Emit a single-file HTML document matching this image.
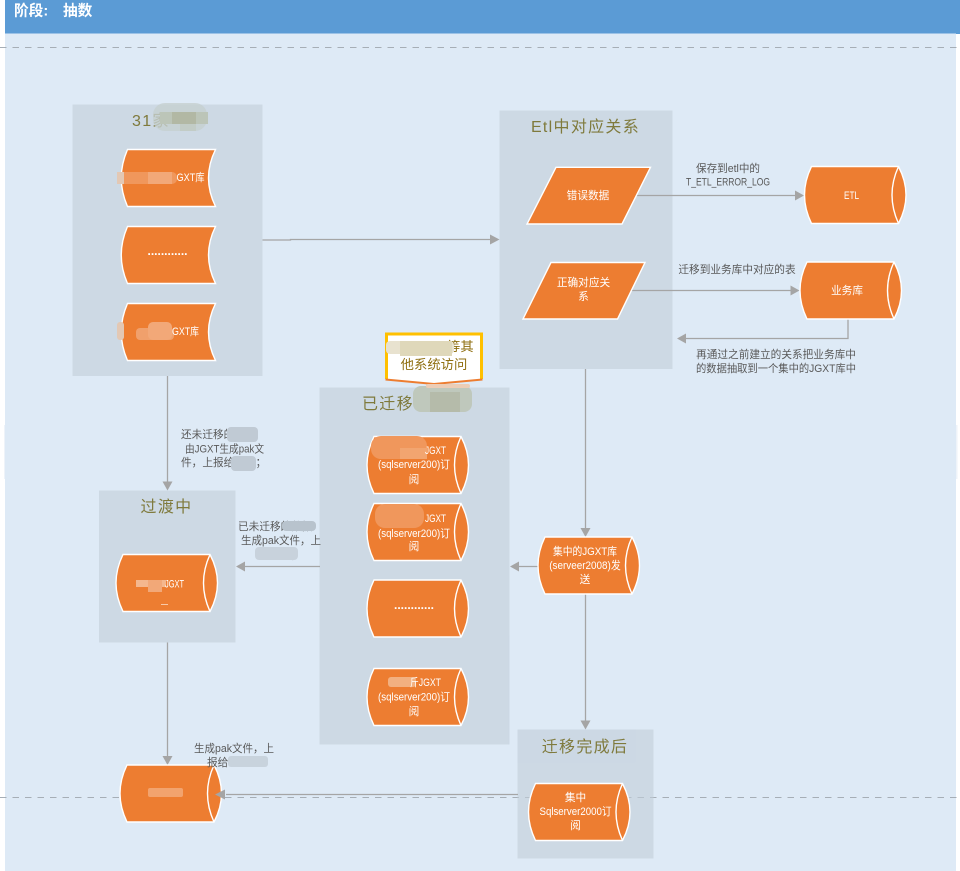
<!DOCTYPE html>
<html><head><meta charset="utf-8">
<style>
html,body{margin:0;padding:0;background:#fff;width:960px;height:871px;overflow:hidden}
svg{display:block}
text{font-family:"Liberation Sans","Noto Sans CJK SC",sans-serif;font-size:10.67px}
.w{fill:#fff;text-anchor:middle}
.g{fill:#595959}
.m{fill:#595959;text-anchor:middle}
.t{fill:#7f7a3c;font-size:16px;letter-spacing:1.3px}
.c{text-anchor:middle}
.n{fill:#ed7d31;stroke:#fff;stroke-width:1.4}
.l{fill:none;stroke:#a5a5a5;stroke-width:1.3}
.a{fill:#a5a5a5}
.d{stroke:#a6aeb6;stroke-width:1;stroke-dasharray:6.5 6}
</style></head><body>
<svg width="960" height="871" viewBox="0 0 960 871" xmlns="http://www.w3.org/2000/svg">
<defs>
<g id="cyl"><path class="n" d="M7,0H94Q109,28.5 94,57H7Q-7,28.5 7,0Z"/><path class="n" style="fill:none" d="M94,0Q81,28.5 94,57"/></g>
<path id="sd" class="n" d="M6.500,0H94.500Q80.500,28.500 94.500,57H6.500Q-6,28.500 6.500,0Z"/>
</defs>

<rect x="5" y="0" width="951" height="871" fill="#deeaf6"/>
<rect x="956" y="0" width="4" height="34" fill="#5b9bd5"/>
<rect x="5" y="0" width="955" height="33.500" fill="#5b9bd5"/>
<rect x="4" y="425" width="1" height="54" fill="#eef3f9"/>
<rect x="956" y="425" width="1.500" height="54" fill="#eef3f9"/>
<text x="14" y="15.500" fill="#fff" style="font-size:14.67px;font-weight:bold">阶段:</text>
<text x="63" y="15.500" fill="#fff" style="font-size:14.67px;font-weight:bold">抽数</text>

<line class="d" x1="0" y1="47.500" x2="960" y2="47.500"/>
<line class="d" x1="0" y1="797.500" x2="960" y2="797.500"/>

<g fill="#c1cdd9" opacity=".6">
<rect x="72.500" y="104.500" width="190" height="271.500"/>
<rect x="499.500" y="110.500" width="173" height="258.500"/>
<rect x="319.500" y="387.500" width="190" height="357"/>
<rect x="99" y="490.500" width="136.500" height="152"/>
<rect x="517.500" y="729.500" width="136" height="129"/>
</g>

<text class="t" x="132" y="126">31家</text>
<text class="t c" x="585.500" y="132">Etl中对应关系</text>
<text class="t" x="362" y="409">已迁移</text>
<text class="t c" x="166.500" y="512">过渡中</text>
<text class="t c" x="585" y="752">迁移完成后</text>

<rect x="153" y="103" width="54" height="28" rx="12" fill="#c6d0d0" opacity=".8"/>
<rect x="160" y="112" width="48" height="12" fill="#bcc5b8"/>
<rect x="172" y="112" width="24" height="12" fill="#b2b8a4"/>
<rect x="180" y="124" width="16" height="7" fill="#c2ccc6"/>
<rect x="413" y="386" width="59" height="26" rx="8" fill="#bfc8bc"/>
<rect x="430" y="392" width="30" height="20" fill="#b5bbaa"/>

<!-- connectors -->
<path class="l" d="M262.500,240H290.500V239.500H490"/><path class="a" d="M499.500,239.500L490,234.500V244.500Z"/>
<path class="l" d="M636,195.500H796"/><path class="a" d="M804,195.500L795,190.500V200.500Z"/>
<path class="l" d="M632,290.500H791"/><path class="a" d="M799.500,290.500L790.500,285.500V295.500Z"/>
<path class="l" d="M848,318.500V338.500H685"/><path class="a" d="M677,338.500L686,333.500V343.500Z"/>
<path class="l" d="M585.500,369V529"/><path class="a" d="M585.500,537L580.500,528H590.500Z"/>
<path class="l" d="M538,566.500H518"/><path class="a" d="M510,566.500L519,561.500V571.500Z"/>
<path class="l" d="M585.500,594V721"/><path class="a" d="M585.500,729.500L580.500,720.500H590.500Z"/>
<path class="l" d="M167.500,376V482"/><path class="a" d="M167.500,490.500L162.500,481.500H172.500Z"/>
<path class="l" d="M320,566.500H244"/><path class="a" d="M236,566.500L245,561.500V571.500Z"/>
<path class="l" d="M167.500,642.500V757"/><path class="a" d="M167.500,765L162.500,756H172.500Z"/>

<!-- nodes -->
<use href="#sd" x="121" y="149.500"/>
<use href="#sd" x="121" y="226.500"/>
<use href="#sd" x="121" y="303.500"/>
<path class="n" d="M556,167.300H650.500L622,224H527Z"/>
<path class="n" d="M551,262.500H645L617.500,319H523Z"/>
<use href="#cyl" x="804.500" y="166.500"/>
<use href="#cyl" x="800" y="262"/>
<use href="#cyl" x="367" y="436.500"/>
<use href="#cyl" x="367" y="503.500"/>
<use href="#cyl" x="367" y="580"/>
<use href="#cyl" x="367" y="668.500"/>
<use href="#cyl" x="116" y="554.500"/>
<use href="#cyl" x="120" y="765"/>
<use href="#cyl" x="538" y="537"/>
<use href="#cyl" x="528.500" y="783.500"/>

<path class="l" d="M518,794.500H226"/><path class="a" d="M215,794.500L225,789.500V799.500Z"/>

<!-- node text -->
<rect x="117" y="172" width="60" height="12" rx="5" fill="#f0975c"/>
<rect x="117" y="172" width="7" height="12" fill="#e3c8b4"/>
<rect x="148" y="172" width="24" height="12" fill="#f2a878"/>
<text x="176.500" y="181" fill="#fff" textLength="28" lengthAdjust="spacingAndGlyphs">GXT库</text>
<text class="w" x="167.500" y="255" style="font-size:12px;font-weight:bold">............</text>
<rect x="136" y="328" width="38" height="12" rx="4" fill="#f0a06c"/>
<rect x="148" y="322" width="24" height="18" rx="5" fill="#f2a878"/>
<rect x="117" y="322" width="7" height="18" rx="3" fill="#e3c8b4"/>
<text x="172" y="335" fill="#fff" textLength="27" lengthAdjust="spacingAndGlyphs">GXT库</text>

<text class="w" x="588" y="199">错误数据</text>
<text class="w" x="583.500" y="286">正确对应关</text>
<text class="w" x="583.500" y="300">系</text>
<text class="w" x="851.500" y="199" textLength="15" lengthAdjust="spacingAndGlyphs">ETL</text>
<text class="w" x="847" y="294">业务库</text>

<rect x="371" y="436" width="56" height="23" rx="10" fill="#f0975c"/>
<rect x="400" y="448" width="27" height="11" fill="#f2a570"/>
<text x="425" y="454" fill="#fff" textLength="21" lengthAdjust="spacingAndGlyphs">JGXT</text>
<text class="w" x="414" y="468" textLength="72" lengthAdjust="spacingAndGlyphs">(sqlserver200)订</text>
<text class="w" x="414" y="483">阅</text>

<rect x="375" y="504" width="49" height="24" rx="10" fill="#f0975c"/>
<text x="425" y="522" fill="#fff" textLength="21" lengthAdjust="spacingAndGlyphs">JGXT</text>
<text class="w" x="414" y="537" textLength="72" lengthAdjust="spacingAndGlyphs">(sqlserver200)订</text>
<text class="w" x="414" y="550">阅</text>

<text class="w" x="414" y="609" style="font-size:12px;font-weight:bold">............</text>

<rect x="388" y="677" width="28" height="10" rx="3" fill="#f2b080"/>
<text x="410" y="686" fill="#fff" textLength="31" lengthAdjust="spacingAndGlyphs">斤JGXT</text>
<text class="w" x="414" y="700.500" textLength="72" lengthAdjust="spacingAndGlyphs">(sqlserver200)订</text>
<text class="w" x="414" y="715">阅</text>

<rect x="136" y="580" width="30" height="7" fill="#f4b78e"/>
<rect x="148" y="580" width="14" height="12" fill="#f2a878"/>
<text x="165" y="587.500" fill="#fff" textLength="19" lengthAdjust="spacingAndGlyphs">JGXT</text>
<rect x="161" y="604" width="7" height="1" fill="#f7c9a8"/>

<rect x="148" y="788" width="35" height="9" rx="2" fill="#f2a36e"/>

<text class="w" x="585" y="555" textLength="64" lengthAdjust="spacingAndGlyphs">集中的JGXT库</text>
<text class="w" x="585" y="569" textLength="71.500" lengthAdjust="spacingAndGlyphs">(serveer2008)发</text>
<text class="w" x="585" y="583">送</text>

<text class="w" x="575.500" y="801">集中</text>
<text class="w" x="575.500" y="815" textLength="72" lengthAdjust="spacingAndGlyphs">Sqlserver2000订</text>
<text class="w" x="575.500" y="829">阅</text>

<!-- labels -->
<text class="m" x="728" y="172" textLength="64" lengthAdjust="spacingAndGlyphs">保存到etl中的</text>
<text class="m" x="728" y="185.500" textLength="84" lengthAdjust="spacingAndGlyphs">T_ETL_ERROR_LOG</text>
<text class="m" x="737" y="273">迁移到业务库中对应的表</text>
<text class="m" x="776" y="358">再通过之前建立的关系把业务库中</text>
<text class="m" x="776" y="372" textLength="160" lengthAdjust="spacingAndGlyphs">的数据抽取到一个集中的JGXT库中</text>

<text class="g" x="181" y="438">还未迁移的</text>
<text class="g" x="185" y="452.500" textLength="79" lengthAdjust="spacingAndGlyphs">由JGXT生成pak文</text>
<text class="g" x="181" y="466">件，上报给省局；</text>
<rect x="227" y="427" width="31" height="15" rx="4" fill="#c0cad4"/>
<rect x="231" y="456" width="25" height="15" rx="4" fill="#c0cad4"/>

<text class="g" x="238" y="530">已未迁移的数据</text>
<text class="g" x="241" y="544" textLength="80" lengthAdjust="spacingAndGlyphs">生成pak文件，上</text>
<text class="g" x="259" y="558">报省局；</text>
<rect x="282" y="521" width="34" height="10" rx="4" fill="#b8c3cd"/>
<rect x="255" y="547" width="43" height="13" rx="4" fill="#c8d2dc"/>

<text class="g" x="194" y="752" textLength="80" lengthAdjust="spacingAndGlyphs">生成pak文件，上</text>
<text class="g" x="207" y="766">报给</text>
<rect x="228" y="756" width="40" height="11" rx="3" fill="#c8d3dd"/>

<!-- callout -->
<path d="M386.500,334H481.500V379L434,384L386.500,379Z" fill="#fff"/>
<path d="M386.500,379V334H481.500V379" fill="none" stroke="#ffc000" stroke-width="3"/>
<path d="M385.500,379.500L434,384L482.500,379.500" fill="none" stroke="#ed7d31" stroke-width="2"/>
<text x="447" y="351" fill="#8f6f10" style="font-size:13.33px">等其</text>
<text class="c" x="434" y="369" fill="#8f6f10" style="font-size:13.33px">他系统访问</text>
<rect x="386" y="341" width="68" height="13" rx="4" fill="#e8e2cf"/>
<rect x="400" y="341" width="52" height="15" fill="#dfd8ba"/>
<rect x="426" y="384" width="44" height="4" rx="2" fill="#eccdb6"/>
</svg>
</body></html>
